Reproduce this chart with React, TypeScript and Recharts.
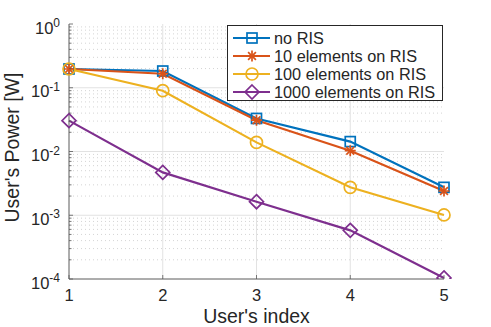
import { LineChart, Line, XAxis, YAxis, ReferenceLine } from "recharts";

// user index on the x axis
const users = [1, 2, 3, 4, 5];

// power per user [W]
const noRis = [0.197, 0.183, 0.033, 0.0143, 0.00274];
const ris10 = [0.197, 0.166, 0.031, 0.0103, 0.0024];
const ris100 = [0.197, 0.09, 0.0139, 0.00274, 0.00101];
const ris1000 = [0.0305, 0.0047, 0.00163, 0.00058, 0.000104];

const seriesNames = ["no RIS", "10 elements on RIS", "100 elements on RIS", "1000 elements on RIS"];
const seriesKeys = ["noRis", "ris10", "ris100", "ris1000"];
const seriesColors = ["#0072BD", "#D95319", "#EDB120", "#7E2F8E"];
const markers = ["square", "star", "circle", "diamond"];

const majorTicks = [1e-4, 1e-3, 1e-2, 1e-1, 1];
const minorMult = [2, 3, 4, 5, 6, 7, 8, 9];
const minorTicks = majorTicks.slice(0, -1).flatMap((d) => minorMult.map((m) => m * d));

const data = users.map((u, i) => ({
    user: u,
    noRis: noRis[i],
    ris10: ris10[i],
    ris100: ris100[i],
    ris1000: ris1000[i],
}));

const AXIS = "#5a5a5a";
const TEXT = "#262626";
const FONT = "'Liberation Sans', Arial, Helvetica, sans-serif";

function isMajor(v: number) {
    const l = Math.log10(v);
    return Math.abs(l - Math.round(l)) < 1e-6;
}

function Marker({ kind, cx, cy, color }: { kind: string; cx: number; cy: number; color: string }) {
    const sw = 1.7;
    if (kind === "square") {
        return <rect x={cx - 5} y={cy - 5} width={10} height={10} fill="none" stroke={color} strokeWidth={sw} />;
    }
    if (kind === "circle") {
        return <circle cx={cx} cy={cy} r={6} fill="none" stroke={color} strokeWidth={sw} />;
    }
    if (kind === "diamond") {
        return (
            <polygon
                points={`${cx},${cy - 7} ${cx + 7},${cy} ${cx},${cy + 7} ${cx - 7},${cy}`}
                fill="none"
                stroke={color}
                strokeWidth={sw}
            />
        );
    }
    // asterisk
    const r = 5.5;
    const d = 3.9;
    return (
        <g stroke={color} strokeWidth={sw}>
            <line x1={cx - r} y1={cy} x2={cx + r} y2={cy} />
            <line x1={cx} y1={cy - r} x2={cx} y2={cy + r} />
            <line x1={cx - d} y1={cy - d} x2={cx + d} y2={cy + d} />
            <line x1={cx - d} y1={cy + d} x2={cx + d} y2={cy - d} />
        </g>
    );
}

const LeftTick = (props: any) => {
    const { x, y, payload } = props;
    const major = isMajor(payload.value);
    const ax = x + 9; // axis line (tickSize 0, tickMargin 9)
    const exp = Math.round(Math.log10(payload.value));
    return (
        <g>
            <line x1={ax} x2={ax + (major ? 4 : 2.5)} y1={y} y2={y} stroke={AXIS} strokeWidth={0.8} />
            {major && (
                <text x={x} y={y + 9.5} textAnchor="end" fill={TEXT} fontSize={16.5}>
                    <tspan>10</tspan>
                    <tspan dy={-6.5} fontSize={12}>{exp}</tspan>
                </text>
            )}
        </g>
    );
};

const RightTick = (props: any) => {
    const { x, y, payload } = props;
    const major = isMajor(payload.value);
    return <line x1={x} x2={x - (major ? 4 : 2.5)} y1={y} y2={y} stroke={AXIS} strokeWidth={0.8} />;
};

const BottomTick = (props: any) => {
    const { x, y, payload } = props;
    return (
        <g>
            <line x1={x} x2={x} y1={y} y2={y - 4} stroke={AXIS} strokeWidth={0.8} />
            <text x={x} y={y + 22} textAnchor="middle" fill={TEXT} fontSize={16.5}>
                {payload.value}
            </text>
        </g>
    );
};

const TopTick = (props: any) => {
    const { x, y } = props;
    return <line x1={x} x2={x} y1={y} y2={y + 4} stroke={AXIS} strokeWidth={0.8} />;
};

const YLabel = (props: any) => {
    const { viewBox } = props;
    const cx = viewBox.x;
    const cy = viewBox.y + viewBox.height / 2 - 4;
    return (
        <text x={cx} y={cy} transform={`rotate(-90, ${cx}, ${cy})`} textAnchor="middle" fill={TEXT} fontSize={19.5}>
            User's Power [W]
        </text>
    );
};

function LegendBox() {
    return (
        <div
            style={{
                position: "absolute",
                left: 227,
                top: 25,
                width: 216,
                height: 76,
                border: "1px solid #262626",
                background: "#fff",
                paddingTop: 3,
                boxSizing: "border-box",
            }}
        >
            {seriesNames.map((name, i) => (
                <div key={name} style={{ display: "flex", alignItems: "center", height: 18 }}>
                    <svg width={46} height={18} style={{ flexShrink: 0 }}>
                        <line x1={5} x2={42} y1={9} y2={9} stroke={seriesColors[i]} strokeWidth={2} />
                        <Marker kind={markers[i]} cx={24} cy={9} color={seriesColors[i]} />
                    </svg>
                    <span style={{ fontSize: 16.3, color: TEXT, whiteSpace: "nowrap" }}>{name}</span>
                </div>
            ))}
        </div>
    );
}

export default function App() {
    return (
        <div style={{ position: "relative", width: 491, height: 327, fontFamily: FONT, background: "#fff" }}>
            <style>{`body{margin:0}`}</style>
            <LineChart width={491} height={327} data={data} margin={{ top: 24, right: 47, bottom: 0, left: 19 }}>
                {/* minor grid, dotted */}
                {minorTicks.map((v) => (
                    <ReferenceLine
                        key={`mn-${v}`}
                        y={v}
                        yAxisId="left"
                        xAxisId="bottom"
                        stroke="#cfcfcf"
                        strokeDasharray="1 3"
                        strokeWidth={0.9}
                    />
                ))}
                {/* major grid */}
                {majorTicks.slice(1, -1).map((v) => (
                    <ReferenceLine key={`mj-${v}`} y={v} yAxisId="left" xAxisId="bottom" stroke="#e2e2e2" strokeWidth={1} />
                ))}
                {users.slice(1, -1).map((u) => (
                    <ReferenceLine key={`vx-${u}`} x={u} yAxisId="left" xAxisId="bottom" stroke="#e2e2e2" strokeWidth={1} />
                ))}

                <XAxis
                    xAxisId="bottom"
                    dataKey="user"
                    type="number"
                    domain={[1, 5]}
                    ticks={users}
                    interval={0}
                    height={48}
                    tickSize={0}
                    tickMargin={0}
                    tick={<BottomTick />}
                    stroke={AXIS}
                    label={{ value: "User's index", position: "insideBottom", offset: 4, fill: TEXT, fontSize: 19.5 }}
                />
                <XAxis
                    xAxisId="top"
                    orientation="top"
                    dataKey="user"
                    type="number"
                    domain={[1, 5]}
                    ticks={users}
                    interval={0}
                    height={0}
                    tickSize={0}
                    tickMargin={0}
                    tick={<TopTick />}
                    stroke={AXIS}
                />
                <YAxis
                    yAxisId="left"
                    type="number"
                    scale="log"
                    domain={[1e-4, 1]}
                    allowDataOverflow
                    ticks={[...majorTicks, ...minorTicks]}
                    interval={0}
                    width={50}
                    tickSize={0}
                    tickMargin={9}
                    tick={<LeftTick />}
                    stroke={AXIS}
                    label={<YLabel />}
                />
                <YAxis
                    yAxisId="right"
                    orientation="right"
                    type="number"
                    scale="log"
                    domain={[1e-4, 1]}
                    allowDataOverflow
                    ticks={[...majorTicks, ...minorTicks]}
                    interval={0}
                    width={0}
                    tickSize={0}
                    tickMargin={0}
                    tick={<RightTick />}
                    stroke={AXIS}
                />

                {seriesKeys.map((k, i) => (
                    <Line
                        key={k}
                        xAxisId="bottom"
                        yAxisId="left"
                        dataKey={k}
                        stroke={seriesColors[i]}
                        strokeWidth={2.2}
                        isAnimationActive={false}
                        dot={(p: any) => (
                            <Marker key={`${k}-${p.index}`} kind={markers[i]} cx={p.cx} cy={p.cy} color={seriesColors[i]} />
                        )}
                        activeDot={false}
                    />
                ))}
            </LineChart>
            <LegendBox />
        </div>
    );
}
